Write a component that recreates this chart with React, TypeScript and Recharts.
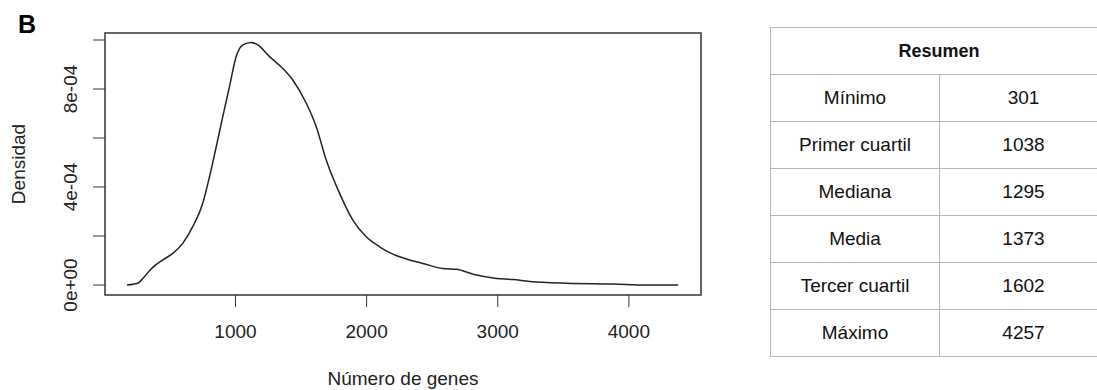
import { LineChart, Line, XAxis, YAxis, ReferenceArea } from 'recharts'

// density estimate
const geneCounts = [173, 254, 305, 369, 445, 522, 598, 674, 750, 802, 853, 903, 954, 1005, 1056, 1120, 1170, 1260, 1361, 1437, 1540, 1616, 1692, 1794, 1895, 1997, 2099, 2176, 2328, 2430, 2582, 2685, 2812, 2990, 3117, 3244, 3524, 3880, 4134, 4376]
const densities = [0, 0.7e-5, 3.4e-5, 7.2e-5, 1.02e-4, 1.29e-4, 1.7e-4, 2.38e-4, 3.33e-4, 4.42e-4, 5.64e-4, 6.87e-4, 8.09e-4, 9.32e-4, 9.8e-4, 9.9e-4, 9.8e-4, 9.32e-4, 8.84e-4, 8.37e-4, 7.42e-4, 6.46e-4, 5.1e-4, 3.74e-4, 2.65e-4, 1.97e-4, 1.56e-4, 1.32e-4, 1.02e-4, 0.88e-4, 0.67e-4, 0.64e-4, 0.44e-4, 0.27e-4, 0.22e-4, 0.14e-4, 0.07e-4, 0.04e-4, 0, 0]

const xTicks = [1000, 2000, 3000, 4000]
const yTicks = [0, 2e-4, 4e-4, 6e-4, 8e-4, 1e-3]
const yTickLabels: Record<string, string> = { '0': '0e+00', '0.0004': '4e-04', '0.0008': '8e-04' }

const summaryLabels = ['Mínimo', 'Primer cuartil', 'Mediana', 'Media', 'Tercer cuartil', 'Máximo']
const summaryValues = [301, 1038, 1295, 1373, 1602, 4257]

const data = geneCounts.map((x, i) => ({ x, y: densities[i] }))

const xDomain: [number, number] = [5, 4550]
const yDomain: [number, number] = [-0.0000408, 0.0010286]

const FONT = '"Liberation Sans", Arial, Helvetica, sans-serif'

const YTick = (props: any) => {
    const { x, y, payload } = props
    const label = yTickLabels[String(payload.value)]
    if (!label) return null
    return (
        <text
            transform={`translate(${x - 21},${y}) rotate(-90)`}
            textAnchor="middle"
            dominantBaseline="central"
            fill="#222"
            fontSize={19}
            fontFamily={FONT}
        >
            {label}
        </text>
    )
}

const cellStyle = {
    border: '1px solid #b5b5b5',
    height: 46,
    padding: 0,
    textAlign: 'center' as const,
    fontSize: 19,
    color: '#111'
}

export default function App() {
    return (
        <div style={{ position: 'absolute', left: 0, top: 0, width: 1097, height: 390, background: '#fff', overflow: 'hidden', fontFamily: FONT }}>
            <div style={{ position: 'absolute', left: 18, top: 10, fontSize: 25, fontWeight: 'bold', color: '#000' }}>B</div>

            <LineChart width={730} height={390} data={data} margin={{ top: 33, right: 29, bottom: 35, left: 45 }}>
                <XAxis
                    type="number"
                    dataKey="x"
                    domain={xDomain}
                    ticks={xTicks}
                    allowDataOverflow
                    axisLine={false}
                    tickSize={12}
                    tickMargin={18}
                    height={60}
                    stroke="#333"
                    tick={{ fill: '#222', fontSize: 19, fontFamily: FONT }}
                    label={{ value: 'Número de genes', position: 'insideBottom', offset: -30, fill: '#222', fontSize: 19, fontFamily: FONT }}
                />
                <YAxis
                    type="number"
                    domain={yDomain}
                    ticks={yTicks}
                    allowDataOverflow
                    axisLine={false}
                    tickSize={12}
                    tickMargin={2}
                    width={60}
                    stroke="#333"
                    tick={<YTick />}
                    label={{ value: 'Densidad', angle: -90, position: 'insideLeft', offset: -27, fill: '#222', fontSize: 19, fontFamily: FONT, style: { textAnchor: 'middle' } }}
                />
                <ReferenceArea x1={xDomain[0]} x2={xDomain[1]} y1={yDomain[0]} y2={yDomain[1]} fill="none" stroke="#333" strokeWidth={1.5} fillOpacity={0} />
                <Line type="monotone" dataKey="y" stroke="#222" strokeWidth={1.5} dot={false} isAnimationActive={false} />
            </LineChart>

            <table style={{ position: 'absolute', left: 770, top: 27, width: 338, borderCollapse: 'collapse', fontFamily: FONT }}>
                <tbody>
                    <tr>
                        <td colSpan={2} style={{ ...cellStyle, fontWeight: 'bold', fontSize: 18 }}>Resumen</td>
                    </tr>
                    {summaryLabels.map((label, i) => (
                        <tr key={label}>
                            <td style={{ ...cellStyle, width: 168 }}>{label}</td>
                            <td style={cellStyle}>{summaryValues[i]}</td>
                        </tr>
                    ))}
                </tbody>
            </table>
        </div>
    )
}
